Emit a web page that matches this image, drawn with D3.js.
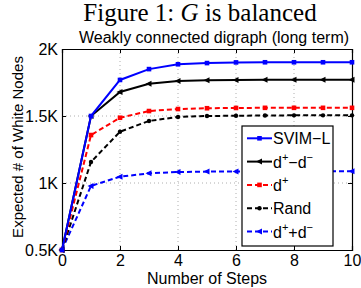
<html>
<head>
<script src="https://cdn.jsdelivr.net/npm/d3@7"></script>
<style>
body { margin: 0; background: #fff; }
text { font-family: "Liberation Sans", Arial, sans-serif; }
</style>
</head>
<body>
<script>
var steps = [0, 1, 2, 3, 4, 5, 6, 7, 8, 9, 10];
var svimL = [500, 1500, 1769, 1850, 1886, 1895, 1900, 1901, 1901, 1901, 1901];
var dPlusMinusDiff = [500, 1500, 1679, 1741, 1761, 1766, 1769, 1770, 1770, 1770, 1770];
var dPlus = [500, 1358, 1487, 1537, 1552, 1558, 1560, 1561, 1561, 1561, 1561];
var rand = [500, 1157, 1383, 1463, 1493, 1500, 1502, 1504, 1505, 1505, 1505];
var dPlusMinusSum = [500, 978, 1047, 1072, 1082, 1085, 1086, 1087, 1087, 1087, 1087];
var xTicks = [0, 2, 4, 6, 8, 10];
var yTicks = [500, 1000, 1500, 2000];
var yTickLabels = ['0.5K', '1K', '1.5K', '2K'];

var series = [
  {name: 'SVIM\u2212L', vals: svimL, color: '#0000ff', dash: null, marker: 'square'},
  {name: 'd+\u2212d\u2212', vals: dPlusMinusDiff, color: '#000000', dash: null, marker: 'tri'},
  {name: 'd+', vals: dPlus, color: '#ff0000', dash: '5,3', marker: 'square'},
  {name: 'Rand', vals: rand, color: '#000000', dash: '5,3', marker: 'dot'},
  {name: 'd++d\u2212', vals: dPlusMinusSum, color: '#0000ff', dash: '5,3', marker: 'tri'}
];

var W = 361, H = 288;
var svg = d3.select('body').append('svg').attr('width', W).attr('height', H);

var x = d3.scaleLinear().domain([0, 10]).range([62, 352]);
var y = d3.scaleLinear().domain([500, 2000]).range([250, 49]);

// grid
svg.selectAll('.gx').data(xTicks.slice(1, -1)).enter().append('line')
  .attr('x1', d => x(d)).attr('x2', d => x(d)).attr('y1', 49).attr('y2', 250)
  .attr('stroke', '#999').attr('stroke-width', 0.8).attr('stroke-dasharray', '1,3');
svg.selectAll('.gy').data(yTicks.slice(1, -1)).enter().append('line')
  .attr('x1', 62).attr('x2', 352).attr('y1', d => y(d)).attr('y2', d => y(d))
  .attr('stroke', '#999').attr('stroke-width', 0.8).attr('stroke-dasharray', '1,3');

// axes
svg.append('g').attr('transform', 'translate(0,250)')
  .call(d3.axisBottom(x).tickValues(xTicks).tickSize(-4).tickPadding(5));
svg.append('g').attr('transform', 'translate(62,0)')
  .call(d3.axisLeft(y).tickValues(yTicks).tickSize(-4).tickPadding(4)
    .tickFormat((d, i) => yTickLabels[i]));
svg.append('g').attr('transform', 'translate(0,49)')
  .call(d3.axisTop(x).tickValues(xTicks).tickSize(-4).tickFormat(''));
svg.append('g').attr('transform', 'translate(352,0)')
  .call(d3.axisRight(y).tickValues(yTicks).tickSize(-4).tickFormat(''));
svg.selectAll('.domain').attr('stroke', '#000').attr('stroke-width', 1.2);
svg.selectAll('.tick text').attr('font-size', 16).attr('fill', '#000')
  .style('font-family', '"Liberation Sans", Arial, sans-serif');

var line = d3.line().x((d, i) => x(steps[i])).y(d => y(d));

function drawMarker(g, type, cx, cy, color) {
  if (type === 'square') {
    g.append('rect').attr('x', cx - 2.3).attr('y', cy - 2.3).attr('width', 4.6).attr('height', 4.6).attr('fill', color);
  } else if (type === 'tri') {
    g.append('path').attr('d', 'M' + (cx - 3.5) + ',' + cy + 'L' + (cx + 2.5) + ',' + (cy - 3) + 'L' + (cx + 2.5) + ',' + (cy + 3) + 'Z').attr('fill', color);
  } else {
    g.append('circle').attr('cx', cx).attr('cy', cy).attr('r', 2.2).attr('fill', color);
  }
}

// draw from back to front
series.slice().reverse().forEach(function(s) {
  var g = svg.append('g');
  g.append('path').datum(s.vals).attr('d', line)
    .attr('fill', 'none').attr('stroke', s.color).attr('stroke-width', 2)
    .attr('stroke-dasharray', s.dash);
  s.vals.forEach(function(v, i) { drawMarker(g, s.marker, x(steps[i]), y(v), s.color); });
});

// legend
var lg = svg.append('g');
lg.append('rect').attr('x', 242).attr('y', 126).attr('width', 91).attr('height', 120)
  .attr('fill', '#fff').attr('stroke', '#000').attr('stroke-width', 1.2);
series.forEach(function(s, i) {
  var ly = 138.3 + i * 23.3;
  lg.append('line').attr('x1', 247).attr('x2', 272).attr('y1', ly).attr('y2', ly)
    .attr('stroke', s.color).attr('stroke-width', 2).attr('stroke-dasharray', s.dash);
  drawMarker(lg, s.marker, 259.5, ly, s.color);
  var t = lg.append('text').attr('x', 273).attr('y', ly + 6).attr('font-size', 16);
  if (s.name === 'SVIM\u2212L' || s.name === 'Rand') {
    t.text(s.name);
  } else if (s.name === 'd+') {
    t.append('tspan').text('d');
    t.append('tspan').attr('font-size', 11).attr('dy', -7).text('+');
  } else if (s.name === 'd+\u2212d\u2212') {
    t.append('tspan').text('d');
    t.append('tspan').attr('font-size', 11).attr('dy', -7).text('+');
    t.append('tspan').attr('dy', 7).text('\u2212d');
    t.append('tspan').attr('font-size', 11).attr('dy', -7).text('\u2212');
  } else {
    t.append('tspan').text('d');
    t.append('tspan').attr('font-size', 11).attr('dy', -7).text('+');
    t.append('tspan').attr('dy', 7).text('+d');
    t.append('tspan').attr('font-size', 11).attr('dy', -7).text('\u2212');
  }
});

// titles and labels
var ft = svg.append('text').attr('x', 200).attr('y', 21).attr('text-anchor', 'middle')
  .attr('font-size', 25)
  .style('font-family', '"Liberation Serif", "Times New Roman", serif');
ft.append('tspan').text('Figure 1: ');
ft.append('tspan').attr('font-style', 'italic').text('G');
ft.append('tspan').text(' is balanced');

svg.append('text').attr('x', 214).attr('y', 43).attr('text-anchor', 'middle')
  .attr('font-size', 16).text('Weakly connected digraph (long term)');
svg.append('text').attr('x', 207).attr('y', 284).attr('text-anchor', 'middle')
  .attr('font-size', 16).text('Number of Steps');
svg.append('text').attr('transform', 'translate(23,147) rotate(-90)').attr('text-anchor', 'middle')
  .attr('font-size', 15).text('Expected # of White Nodes');
</script>
</body>
</html>
